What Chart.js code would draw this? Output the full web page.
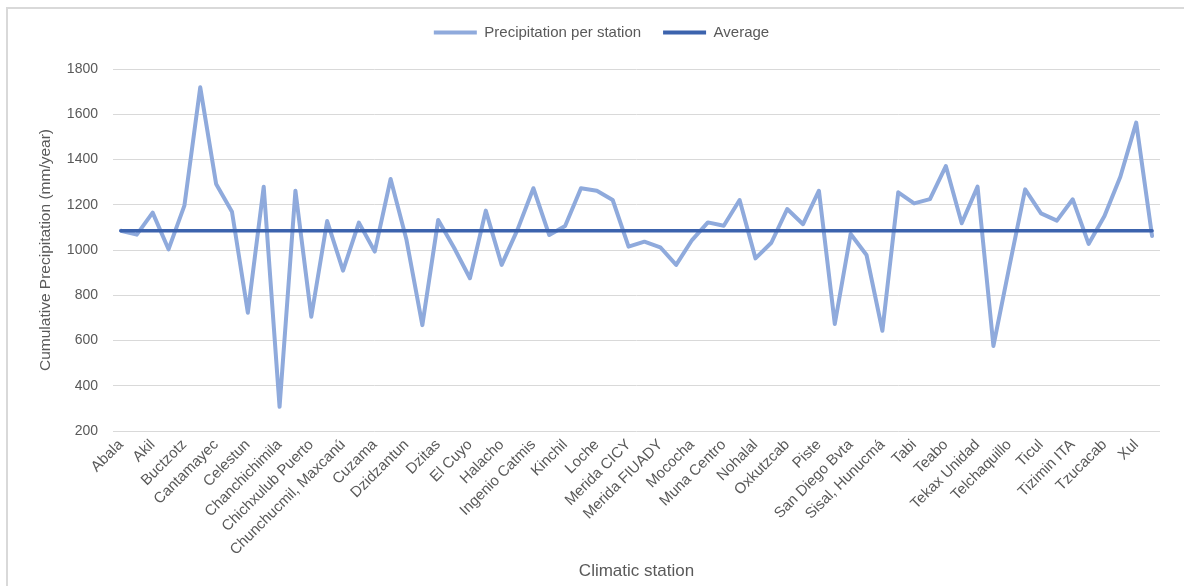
<!DOCTYPE html>
<html>
<head>
<meta charset="utf-8">
<script src="https://cdn.jsdelivr.net/npm/chart.js@4/dist/chart.umd.min.js"></script>
<style>
  html, body { margin: 0; padding: 0; background: #ffffff; }
  #wrap { position: relative; width: 1184px; height: 586px; overflow: hidden; }
  #frame { position: absolute; left: 6px; top: 7px; width: 1210px; height: 620px;
           border: 2px solid #d9d9d9; box-sizing: border-box; }
  #chart { position: absolute; left: 0; top: 0; }
</style>
</head>
<body>
<div id="wrap">
  <div id="frame"></div>
  <canvas id="chart" width="1184" height="586"></canvas>
</div>
<script>
// Climatic stations in axis order ('' = station whose name is not printed on the axis)
const stations = [
  'Abala', '', 'Akil', '', 'Buctzotz', '', 'Cantamayec', '', 'Celestun', '',
  'Chanchichimila', '', 'Chichxulub Puerto', '', 'Chunchucmil, Maxcanú', '', 'Cuzama', '', 'Dzidzantun', '',
  'Dzitas', '', 'El Cuyo', '', 'Halacho', '', 'Ingenio Catmis', '', 'Kinchil', '',
  'Loche', '', 'Merida CICY', '', 'Merida FIUADY', '', 'Mococha', '', 'Muna Centro', '',
  'Nohalal', '', 'Oxkutzcab', '', 'Piste', '', 'San Diego Bvta', '', 'Sisal, Hunucmá', '',
  'Tabi', '', 'Teabo', '', 'Tekax Unidad', '', 'Telchaquillo', '', 'Ticul', '',
  'Tizimin ITA', '', 'Tzucacab', '', 'Xul', ''
];

// Cumulative precipitation per station (mm/year)
const precipitation = [
  1085, 1068, 1165, 1003, 1196, 1719, 1292, 1169,  723, 1280,
   307, 1262,  705, 1128,  909, 1121,  993, 1314, 1045,  668,
  1133, 1010,  875, 1174,  934, 1090, 1273, 1066, 1106, 1273,
  1262, 1221, 1015, 1037, 1012,  934, 1044, 1122, 1107, 1221,
   963, 1032, 1181, 1114, 1262,  673, 1071,  978,  643, 1255,
  1206, 1225, 1371, 1118, 1280,  576,  925, 1268, 1162, 1130,
  1224, 1027, 1150, 1324, 1563, 1062
];

// Average precipitation of all stations (mm/year), one value per station
const average = [
  1085, 1085, 1085, 1085, 1085, 1085, 1085, 1085, 1085, 1085,
  1085, 1085, 1085, 1085, 1085, 1085, 1085, 1085, 1085, 1085,
  1085, 1085, 1085, 1085, 1085, 1085, 1085, 1085, 1085, 1085,
  1085, 1085, 1085, 1085, 1085, 1085, 1085, 1085, 1085, 1085,
  1085, 1085, 1085, 1085, 1085, 1085, 1085, 1085, 1085, 1085,
  1085, 1085, 1085, 1085, 1085, 1085, 1085, 1085, 1085, 1085,
  1085, 1085, 1085, 1085, 1085, 1085
];

// Value axis range and step
const yMin = 200;
const yMax = 1800;
const yStep = 200;

const TEXT = '#595959';
const GRID = '#d9d9d9';
const FONT = "'Liberation Sans', Arial, sans-serif";

Chart.defaults.font.family = FONT;
Chart.defaults.color = TEXT;

// Legend placement: extra gap below the legend row, and the row set slightly left of the plot centre
const legendPlacement = {
  id: 'legendPlacement',
  beforeUpdate(chart) {
    const legend = chart.legend;
    if (legend && !legend._gapAdded) {
      const fit = legend.fit;
      legend.fit = function () { fit.call(this); this.height += 19; };
      legend._gapAdded = true;
    }
  },
  afterLayout(chart) {
    const legend = chart.legend;
    if (!legend) return;
    const shift = (chart.chartArea.left + chart.chartArea.right) / 2 - (legend.left + legend.right) / 2 - 35;
    legend.left += shift;
    legend.right += shift;
  }
};

new Chart(document.getElementById('chart'), {
  type: 'line',
  plugins: [legendPlacement],
  data: {
    labels: stations,
    datasets: [
      {
        label: 'Precipitation per station',
        data: precipitation,
        borderColor: '#8faadc',
        borderWidth: 4,
        pointRadius: 0,
        pointHoverRadius: 0,
        pointStyle: 'line',
        pointBorderColor: '#8faadc',
        pointBorderWidth: 4,
        tension: 0,
        borderJoinStyle: 'round',
        borderCapStyle: 'round',
        order: 2
      },
      {
        label: 'Average',
        data: average,
        borderColor: '#3c63ad',
        borderWidth: 3.5,
        pointRadius: 0,
        pointHoverRadius: 0,
        pointStyle: 'line',
        pointBorderColor: '#3c63ad',
        pointBorderWidth: 4,
        tension: 0,
        borderCapStyle: 'round',
        order: 1
      }
    ]
  },
  options: {
    responsive: false,
    devicePixelRatio: 1,
    animation: false,
    layout: { padding: { top: 3, right: 24, bottom: 0, left: 0 } },
    plugins: {
      tooltip: { enabled: false },
      legend: {
        position: 'top',
        align: 'center',
        labels: {
          usePointStyle: true,
          pointStyleWidth: 43,
          padding: 22,
          color: TEXT,
          font: { size: 15 },
          sort: (a, b) => a.datasetIndex - b.datasetIndex
        }
      }
    },
    scales: {
      x: {
        type: 'category',
        offset: true,
        grid: { display: false, drawTicks: false },
        border: { display: false },
        ticks: {
          autoSkip: false,
          minRotation: 45,
          maxRotation: 45,
          padding: 5,
          color: TEXT,
          font: { size: 15 }
        },
        title: {
          display: true,
          text: 'Climatic station',
          color: TEXT,
          font: { size: 17 },
          padding: { top: 0, bottom: 4 }
        },
        afterFit(scale) { scale.height = 155; }
      },
      y: {
        min: yMin,
        max: yMax,
        grid: { color: GRID, lineWidth: 1, drawTicks: false },
        border: { display: false },
        ticks: {
          stepSize: yStep,
          padding: 15,
          color: TEXT,
          font: { size: 14 },
          callback: (value) => String(value)
        },
        title: {
          display: true,
          text: 'Cumulative Precipitation (mm/year)',
          color: TEXT,
          font: { size: 15.5 },
          padding: { top: 36, bottom: 0 }
        },
        afterFit(scale) { scale.width = 113; }
      }
    }
  }
});
</script>
</body>
</html>
